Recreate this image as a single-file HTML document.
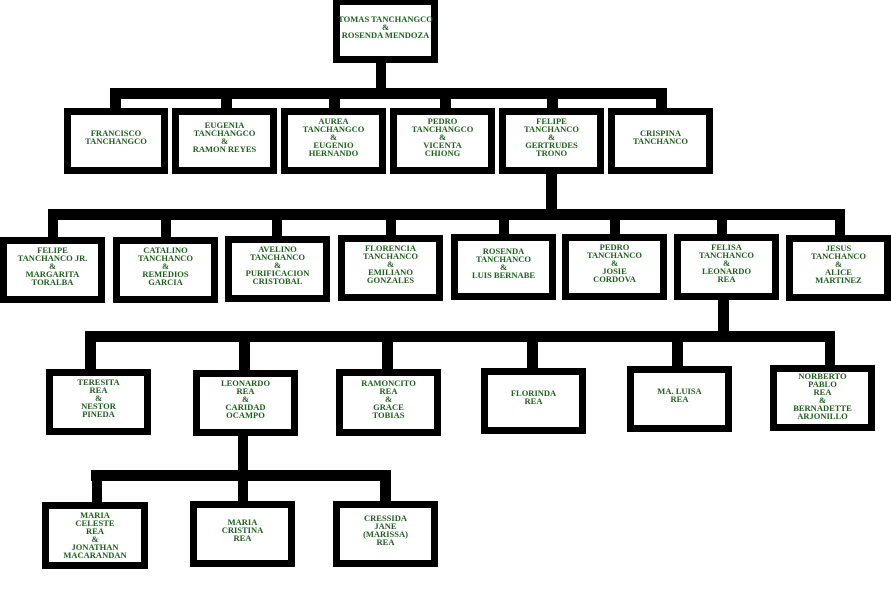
<!DOCTYPE html>
<html><head><meta charset="utf-8"><style>
html,body{margin:0;padding:0;background:#fff;width:891px;height:600px;overflow:hidden;position:relative}
.b{position:absolute;background:#000}
.n{position:absolute;box-sizing:border-box;background:#fff;border:7px solid #000;display:flex;align-items:center;justify-content:center;text-align:center;padding-bottom:8px;font-family:"Liberation Serif",serif;font-weight:bold;font-size:8.5px;line-height:8px;color:#1d5e1d;white-space:nowrap}
</style></head><body>
<!-- connectors -->
<div class="b" style="left:376px;top:60px;width:10px;height:30px"></div>
<div class="b" style="left:110px;top:88px;width:557px;height:11px"></div>
<div class="b" style="left:110px;top:96px;width:11px;height:14px"></div>
<div class="b" style="left:221px;top:96px;width:11px;height:14px"></div>
<div class="b" style="left:329px;top:96px;width:11px;height:14px"></div>
<div class="b" style="left:440px;top:96px;width:11px;height:14px"></div>
<div class="b" style="left:547px;top:96px;width:11px;height:14px"></div>
<div class="b" style="left:656px;top:96px;width:11px;height:14px"></div>

<div class="b" style="left:546px;top:172px;width:11px;height:40px"></div>
<div class="b" style="left:48px;top:209px;width:797px;height:11px"></div>
<div class="b" style="left:48px;top:217px;width:10px;height:22px"></div>
<div class="b" style="left:161px;top:217px;width:10px;height:22px"></div>
<div class="b" style="left:272px;top:217px;width:10px;height:22px"></div>
<div class="b" style="left:386px;top:217px;width:10px;height:22px"></div>
<div class="b" style="left:499px;top:217px;width:10px;height:22px"></div>
<div class="b" style="left:610px;top:217px;width:10px;height:22px"></div>
<div class="b" style="left:717px;top:217px;width:10px;height:22px"></div>
<div class="b" style="left:835px;top:217px;width:10px;height:22px"></div>

<div class="b" style="left:718px;top:298px;width:11px;height:36px"></div>
<div class="b" style="left:85px;top:331px;width:750px;height:11px"></div>
<div class="b" style="left:85px;top:340px;width:11px;height:31px"></div>
<div class="b" style="left:239px;top:340px;width:11px;height:31px"></div>
<div class="b" style="left:382px;top:340px;width:11px;height:31px"></div>
<div class="b" style="left:527px;top:340px;width:11px;height:30px"></div>
<div class="b" style="left:672px;top:340px;width:11px;height:28px"></div>
<div class="b" style="left:825px;top:340px;width:10px;height:27px"></div>

<div class="b" style="left:238px;top:434px;width:10px;height:38px"></div>
<div class="b" style="left:91px;top:470px;width:300px;height:11px"></div>
<div class="b" style="left:92px;top:479px;width:10px;height:25px"></div>
<div class="b" style="left:238px;top:479px;width:10px;height:24px"></div>
<div class="b" style="left:380px;top:479px;width:11px;height:24px"></div>

<!-- nodes -->
<div class="n" style="left:333px;top:0;width:105px;height:63px;border-top-width:5px">TOMAS TANCHANGCO<br>&amp;<br>ROSENDA MENDOZA</div>

<div class="n" style="left:64px;top:108px;width:104px;height:66px">FRANCISCO<br>TANCHANGCO</div>
<div class="n" style="left:172px;top:108px;width:105px;height:66px">EUGENIA<br>TANCHANGCO<br>&amp;<br>RAMON REYES</div>
<div class="n" style="left:281px;top:108px;width:105px;height:66px">AUREA<br>TANCHANGCO<br>&amp;<br>EUGENIO<br>HERNANDO</div>
<div class="n" style="left:390px;top:108px;width:105px;height:66px">PEDRO<br>TANCHANGCO<br>&amp;<br>VICENTA<br>CHIONG</div>
<div class="n" style="left:499px;top:108px;width:105px;height:66px">FELIPE<br>TANCHANCO<br>&amp;<br>GERTRUDES<br>TRONO</div>
<div class="n" style="left:608px;top:108px;width:105px;height:66px">CRISPINA<br>TANCHANCO</div>

<div class="n" style="left:0;top:237px;width:105px;height:66px">FELIPE<br>TANCHANCO JR.<br>&amp;<br>MARGARITA<br>TORALBA</div>
<div class="n" style="left:113px;top:237px;width:105px;height:66px">CATALINO<br>TANCHANCO<br>&amp;<br>REMEDIOS<br>GARCIA</div>
<div class="n" style="left:225px;top:236px;width:105px;height:66px">AVELINO<br>TANCHANCO<br>&amp;<br>PURIFICACION<br>CRISTOBAL</div>
<div class="n" style="left:338px;top:235px;width:105px;height:66px">FLORENCIA<br>TANCHANCO<br>&amp;<br>EMILIANO<br>GONZALES</div>
<div class="n" style="left:451px;top:234px;width:105px;height:66px">ROSENDA<br>TANCHANCO<br>&amp;<br>LUIS BERNABE</div>
<div class="n" style="left:562px;top:234px;width:105px;height:66px">PEDRO<br>TANCHANCO<br>&amp;<br>JOSIE<br>CORDOVA</div>
<div class="n" style="left:674px;top:234px;width:105px;height:66px">FELISA<br>TANCHANCO<br>&amp;<br>LEONARDO<br>REA</div>
<div class="n" style="left:786px;top:235px;width:105px;height:66px">JESUS<br>TANCHANCO<br>&amp;<br>ALICE<br>MARTINEZ</div>

<div class="n" style="left:46px;top:369px;width:105px;height:66px">TERESITA<br>REA<br>&amp;<br>NESTOR<br>PINEDA</div>
<div class="n" style="left:193px;top:370px;width:105px;height:66px">LEONARDO<br>REA<br>&amp;<br>CARIDAD<br>OCAMPO</div>
<div class="n" style="left:336px;top:369px;width:105px;height:67px">RAMONCITO<br>REA<br>&amp;<br>GRACE<br>TOBIAS</div>
<div class="n" style="left:481px;top:368px;width:105px;height:66px">FLORINDA<br>REA</div>
<div class="n" style="left:627px;top:366px;width:105px;height:66px">MA. LUISA<br>REA</div>
<div class="n" style="left:770px;top:365px;width:105px;height:66px;padding-bottom:4px">NORBERTO<br>PABLO<br>REA<br>&amp;<br>BERNADETTE<br>ARJONILLO</div>

<div class="n" style="left:42px;top:502px;width:106px;height:67px;padding-bottom:2px">MARIA<br>CELESTE<br>REA<br>&amp;<br>JONATHAN<br>MACARANDAN</div>
<div class="n" style="left:190px;top:501px;width:105px;height:66px">MARIA<br>CRISTINA<br>REA</div>
<div class="n" style="left:333px;top:501px;width:105px;height:66px">CRESSIDA<br>JANE<br>(MARISSA)<br>REA</div>
</body></html>
